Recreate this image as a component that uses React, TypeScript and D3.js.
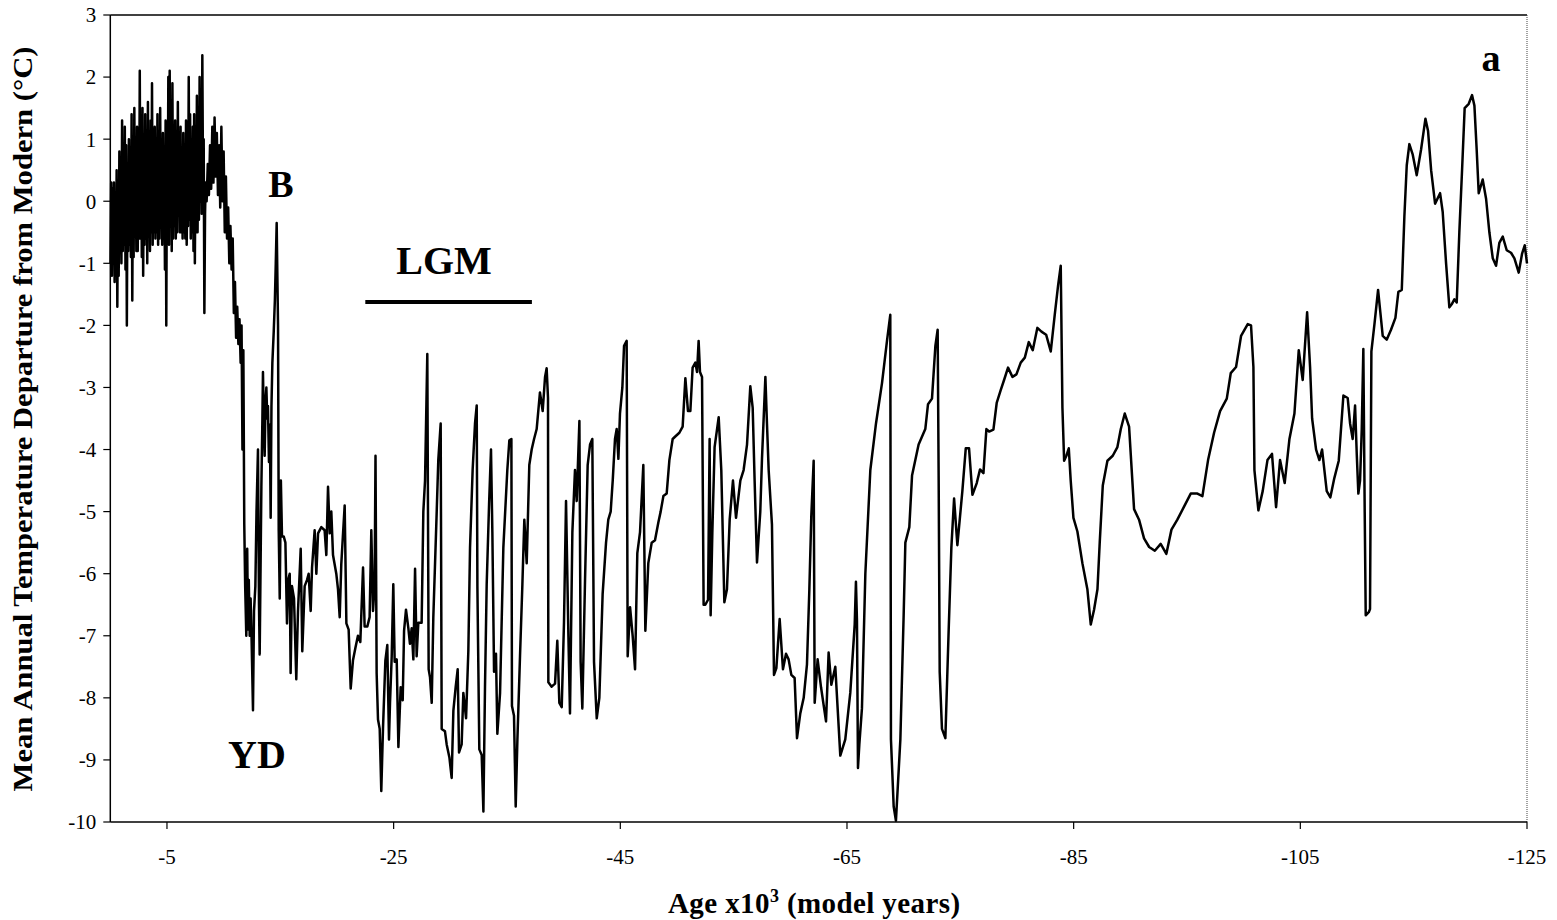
import React from 'react';
import * as d3 from 'd3';

type Pt = [number, number];

// Age (kyr, negative = before present), temperature departure (°C)
const holocene: Pt[] = [
  [-0.02,-1.0],[-0.08,0.3],[-0.14,-1.2],[-0.2,0.2],[-0.26,-0.9],[-0.32,0.3],[-0.38,-1.3],[-0.44,0.1],[-0.5,-1.1],[-0.56,0.5],
  [-0.62,-1.7],[-0.68,0.2],[-0.74,-1.2],[-0.8,0.8],[-0.86,-0.6],[-0.92,0.4],[-0.98,-1.0],[-1.04,1.3],[-1.1,-0.8],[-1.16,0.7],
  [-1.22,-0.7],[-1.28,1.2],[-1.34,-1.1],[-1.4,0.9],[-1.46,-2.0],[-1.52,0.5],[-1.58,-0.8],[-1.64,1.0],[-1.7,-0.7],[-1.76,0.4],
  [-1.82,-0.9],[-1.88,1.4],[-1.94,-1.6],[-2.0,0.6],[-2.06,-0.9],[-2.12,1.5],[-2.18,-0.5],[-2.24,0.9],[-2.3,-0.8],[-2.36,1.2],
  [-2.42,-0.8],[-2.48,0.7],[-2.54,-0.6],[-2.6,2.1],[-2.66,-0.6],[-2.72,1.0],[-2.78,-0.9],[-2.84,1.5],[-2.9,-1.2],[-2.96,0.8],
  [-3.02,-0.7],[-3.08,1.4],[-3.14,-0.6],[-3.2,1.0],[-3.26,-1.0],[-3.32,1.6],[-3.38,-0.5],[-3.44,0.7],[-3.5,-0.8],[-3.56,1.3],
  [-3.62,-0.5],[-3.68,1.9],[-3.74,-0.7],[-3.8,0.9],[-3.86,-0.5],[-3.92,1.2],[-3.98,-0.6],[-4.04,0.6],[-4.1,-0.5],[-4.16,1.4],
  [-4.22,-0.7],[-4.28,0.8],[-4.34,-0.6],[-4.4,1.5],[-4.46,-0.4],[-4.52,0.5],[-4.58,-0.7],[-4.64,1.1],[-4.7,-0.4],[-4.76,0.7],
  [-4.82,-1.1],[-4.88,1.3],[-4.94,-2.0],[-5.0,0.9],[-5.06,-0.5],[-5.12,2.0],[-5.18,-0.7],[-5.24,2.1],[-5.3,-0.3],[-5.36,1.1],
  [-5.42,-0.8],[-5.48,1.9],[-5.54,-0.6],[-5.6,0.6],[-5.66,-0.4],[-5.72,1.3],[-5.78,-0.6],[-5.84,0.4],[-5.9,-0.5],[-5.96,1.6],
  [-6.02,-0.2],[-6.08,1.0],[-6.14,-0.5],[-6.2,1.2],[-6.26,-0.5],[-6.32,0.7],[-6.38,-0.6],[-6.44,1.1],[-6.5,-0.5],[-6.56,0.8],
  [-6.62,-0.6],[-6.68,1.3],[-6.74,-0.7],[-6.8,0.5],[-6.86,-0.4],[-6.92,2.0],[-6.98,-0.3],[-7.04,1.4],[-7.1,-0.6],[-7.16,0.8],
  [-7.22,-0.5],[-7.28,1.2],[-7.34,-0.8],[-7.4,1.4],[-7.46,-1.0],[-7.52,0.6],[-7.58,-0.5],[-7.64,1.7],[-7.7,-0.5],[-7.76,0.9],
  [-7.82,-0.3],[-7.88,2.0],[-7.94,0.0],[-8.0,1.2],[-8.06,-0.2],[-8.12,2.35],[-8.18,0.3],[-8.24,1.0],[-8.3,-1.8],[-8.36,-0.2],
  [-8.42,0.3],
];

const deglacial: Pt[] = [
  [-8.5,0.0],[-8.6,0.6],[-8.7,0.1],[-8.8,0.9],[-8.9,0.2],[-9.0,1.2],[-9.1,0.3],[-9.2,1.35],[-9.3,0.4],[-9.4,1.1],
  [-9.5,0.1],[-9.6,0.9],[-9.7,-0.1],[-9.8,1.2],[-9.9,0.0],[-10.0,0.8],[-10.1,-0.5],[-10.2,0.4],[-10.3,-0.6],[-10.4,-0.1],
  [-10.5,-1.0],[-10.6,-0.4],[-10.7,-1.1],[-10.8,-0.6],[-10.9,-1.8],[-11.0,-1.3],[-11.1,-2.2],[-11.2,-1.7],[-11.3,-2.3],[-11.4,-1.9],
  [-11.5,-2.6],[-11.58,-2.0],[-11.66,-4.0],[-11.74,-2.4],[-11.82,-5.2],[-11.9,-6.2],[-12.0,-7.0],[-12.08,-5.6],[-12.15,-6.9],[-12.22,-6.1],
  [-12.3,-7.0],[-12.38,-6.4],[-12.46,-7.0],[-12.59,-8.2],[-12.68,-6.6],[-12.8,-6.2],[-12.9,-5.0],[-13.03,-4.0],[-13.12,-6.5],[-13.18,-7.3],
  [-13.28,-5.5],[-13.33,-4.6],[-13.42,-3.5],[-13.47,-2.75],[-13.55,-3.6],[-13.62,-4.1],[-13.7,-3.2],[-13.77,-3.0],[-13.85,-3.5],[-13.91,-3.3],
  [-14.0,-4.2],[-14.08,-3.6],[-14.15,-5.1],[-14.22,-3.3],[-14.3,-2.6],[-14.42,-2.1],[-14.52,-1.6],[-14.6,-1.0],[-14.68,-0.35],[-14.74,-1.2],
  [-14.8,-2.0],[-14.86,-5.3],[-14.95,-6.4],[-15.05,-4.5],[-15.15,-5.4],[-15.3,-5.4],[-15.45,-5.5],[-15.59,-6.8],[-15.7,-6.1],[-15.83,-6.0],
  [-15.91,-7.6],[-16.03,-6.2],[-16.21,-6.4],[-16.41,-7.7],[-16.56,-6.6],[-16.8,-5.6],[-16.94,-7.25],[-17.15,-6.2],[-17.36,-6.1],[-17.5,-6.0],
  [-17.68,-6.6],[-17.8,-5.9],[-18.03,-5.3],[-18.18,-6.0],[-18.33,-5.35],[-18.62,-5.25],[-18.91,-5.3],[-19.06,-5.7],[-19.21,-4.6],[-19.36,-5.35],
  [-19.5,-5.0],[-19.65,-5.7],[-19.94,-6.0],[-20.09,-6.25],[-20.24,-6.7],[-20.38,-5.85],[-20.52,-5.4],[-20.68,-4.9],[-20.83,-6.8],[-21.03,-6.9],
  [-21.21,-7.85],[-21.41,-7.4],[-21.62,-7.2],[-21.85,-7.0],[-22.06,-7.1],[-22.3,-5.9],[-22.44,-6.85],[-22.68,-6.85],[-22.88,-6.7],[-23.03,-5.3],
  [-23.18,-6.6],[-23.32,-6.2],[-23.4,-4.1],[-23.5,-7.6],[-23.62,-8.35],[-23.77,-8.5],[-23.91,-9.5],[-24.06,-8.5],[-24.27,-7.4],[-24.44,-7.15],
  [-24.59,-8.67],
];

const glacialEarly: Pt[] = [
  [-24.68,-8.08],[-24.83,-7.33],[-24.97,-6.17],[-25.09,-7.42],[-25.27,-7.38],[-25.42,-8.79],[-25.62,-7.83],[-25.8,-8.04],[-25.92,-6.92],[-26.09,-6.58],
  [-26.3,-6.88],[-26.44,-7.13],[-26.59,-6.88],[-26.74,-7.38],[-26.89,-5.92],[-27.03,-7.33],[-27.18,-6.79],[-27.47,-6.79],[-27.62,-5.0],[-27.77,-4.5],
  [-27.97,-2.46],[-28.09,-7.54],[-28.21,-7.67],[-28.36,-8.08],[-28.5,-6.71],[-28.8,-5.0],[-28.94,-4.17],[-29.15,-3.58],[-29.24,-8.5],[-29.53,-8.54],
  [-29.68,-8.75],[-29.92,-8.96],[-30.12,-9.29],[-30.27,-8.21],[-30.47,-7.83],[-30.65,-7.54],[-30.77,-8.88],[-31.0,-8.75],[-31.15,-7.92],[-31.39,-8.33],
  [-31.59,-7.25],[-31.74,-5.58],[-31.97,-4.33],[-32.18,-3.58],[-32.33,-3.29],[-32.39,-6.21],[-32.56,-8.83],[-32.77,-8.92],[-32.92,-9.83],[-33.06,-7.83],
  [-33.21,-6.17],[-33.42,-4.88],[-33.59,-4.0],[-33.71,-5.33],[-33.86,-7.58],[-34.03,-7.29],[-34.15,-8.58],[-34.39,-7.92],[-34.68,-5.58],[-35.03,-4.33],
  [-35.21,-3.85],[-35.39,-3.83],[-35.44,-8.13],[-35.62,-8.29],[-35.77,-9.75],[-35.92,-8.67],[-36.15,-7.33],[-36.36,-6.17],[-36.53,-5.13],[-36.74,-5.83],
  [-36.97,-4.25],[-37.18,-4.0],[-37.39,-3.83],[-37.62,-3.67],[-37.91,-3.08],[-38.15,-3.38],[-38.36,-2.83],[-38.5,-2.69],[-38.62,-3.17],[-38.65,-7.75],
  [-38.94,-7.82],[-39.24,-7.77],[-39.44,-7.08],[-39.62,-8.08],[-39.83,-8.15],[-40.03,-6.79],[-40.21,-4.83],[-40.42,-7.0],[-40.56,-8.25],[-40.77,-5.33],
  [-41.0,-4.33],[-41.15,-4.83],[-41.39,-3.54],[-41.5,-7.42],[-41.65,-8.17],[-41.89,-6.08],[-42.12,-4.25],[-42.33,-3.92],[-42.53,-3.83],[-42.68,-7.42],
  [-42.92,-8.33],[-43.15,-8.0],[-43.44,-6.33],[-43.74,-5.5],[-43.94,-5.13],[-44.15,-5.0],[-44.33,-4.5],[-44.53,-3.83],[-44.68,-3.67],[-44.83,-4.15],
  [-44.97,-3.42],[-45.18,-3.0],[-45.33,-2.33],[-45.56,-2.25],[-45.65,-7.33],[-45.86,-6.54],[-46.09,-7.0],[-46.3,-7.54],[-46.5,-5.67],[-46.74,-5.33],
  [-47.03,-4.25],[-47.21,-6.92],[-47.47,-5.83],[-47.77,-5.5],[-48.06,-5.46],[-48.36,-5.17],[-48.56,-5.0],[-48.8,-4.75],[-49.09,-4.71],[-49.33,-4.17],
  [-49.62,-3.83],
];

const glacialMiddle: Pt[] = [
  [-49.85,-3.79],[-50.21,-3.73],[-50.5,-3.63],[-50.74,-2.85],[-50.97,-3.38],[-51.18,-3.38],[-51.38,-2.68],[-51.62,-2.6],[-51.77,-2.75],[-51.91,-2.25],
  [-52.03,-2.75],[-52.21,-2.83],[-52.35,-6.5],[-52.5,-6.5],[-52.74,-6.42],[-52.88,-3.83],[-52.97,-6.67],[-53.12,-5.33],[-53.32,-3.96],[-53.68,-3.48],
  [-53.91,-4.33],[-54.18,-6.46],[-54.41,-6.25],[-54.65,-5.13],[-54.94,-4.5],[-55.21,-5.1],[-55.59,-4.5],[-55.88,-4.33],[-56.18,-3.92],[-56.47,-2.98],
  [-56.68,-3.33],[-56.85,-4.5],[-57.06,-5.82],[-57.35,-5.0],[-57.5,-4.15],[-57.8,-2.83],[-57.94,-3.58],[-58.09,-4.33],[-58.38,-5.21],[-58.56,-7.63],
  [-58.77,-7.52],[-59.06,-6.73],[-59.35,-7.54],[-59.62,-7.29],[-59.85,-7.38],[-60.09,-7.63],[-60.38,-7.68],[-60.59,-8.65],[-60.88,-8.25],[-61.18,-8.0],
  [-61.47,-7.46],[-61.68,-6.25],[-61.85,-5.08],[-62.06,-4.18],[-62.15,-8.08],[-62.41,-7.38],[-62.71,-7.83],[-63.15,-8.38],[-63.38,-7.27],[-63.62,-7.79],
  [-63.97,-7.5],[-64.41,-8.93],[-64.85,-8.67],[-65.29,-7.92],[-65.68,-6.82],[-65.79,-6.13],[-65.88,-6.75],[-65.97,-9.13],[-66.09,-8.75],[-66.32,-8.17],
  [-66.62,-6.0],[-67.06,-4.33],[-67.56,-3.58],[-68.09,-2.93],[-68.53,-2.25],[-68.82,-1.83],[-68.88,-8.67],[-69.12,-9.75],[-69.32,-9.98],[-69.71,-8.67],
  [-70.0,-6.67],[-70.15,-5.5],[-70.5,-5.25],[-70.74,-4.42],[-71.32,-3.92],[-71.91,-3.67],[-72.15,-3.27],[-72.5,-3.18],[-72.8,-2.33],[-73.0,-2.07],
  [-73.09,-4.5],[-73.18,-7.58],[-73.38,-8.5],[-73.68,-8.65],[-73.97,-6.92],[-74.21,-5.58],
];

const glacialLate: Pt[] = [
  [-74.45,-4.79],[-74.74,-5.54],[-75.18,-4.67],[-75.48,-3.98],[-75.77,-3.98],[-76.07,-4.73],[-76.45,-4.54],[-76.74,-4.32],[-77.04,-4.38],[-77.3,-3.67],
  [-77.54,-3.71],[-77.92,-3.68],[-78.21,-3.25],[-78.57,-3.04],[-78.86,-2.88],[-79.21,-2.68],[-79.6,-2.83],[-79.95,-2.79],[-80.33,-2.6],[-80.69,-2.52],
  [-81.04,-2.27],[-81.39,-2.4],[-81.8,-2.04],[-82.16,-2.1],[-82.57,-2.15],[-82.98,-2.42],[-83.33,-1.83],[-83.63,-1.35],[-83.86,-1.04],[-84.01,-3.33],
  [-84.16,-4.18],[-84.36,-4.1],[-84.57,-3.98],[-84.74,-4.5],[-84.98,-5.1],[-85.33,-5.32],[-85.77,-5.83],[-86.21,-6.25],[-86.51,-6.82],[-86.8,-6.58],
  [-87.1,-6.25],[-87.3,-5.5],[-87.57,-4.58],[-87.98,-4.18],[-88.45,-4.1],[-88.86,-3.96],[-89.16,-3.67],[-89.51,-3.42],[-89.89,-3.63],[-90.33,-4.96],
  [-90.77,-5.13],[-91.21,-5.43],[-91.66,-5.57],[-92.16,-5.63],[-92.68,-5.52],[-93.18,-5.68],[-93.63,-5.29],[-94.15,-5.13],[-94.74,-4.92],[-95.33,-4.71],
  [-95.92,-4.71],[-96.36,-4.75],[-96.86,-4.17],[-97.39,-3.73],[-97.92,-3.38],[-98.51,-3.18],[-98.86,-2.77],
];

const lastInterglacial: Pt[] = [
  [-99.33,-2.67],[-99.77,-2.17],[-100.36,-1.98],[-100.65,-2.0],[-100.86,-2.67],[-100.95,-4.33],[-101.3,-4.98],[-101.68,-4.67],[-102.1,-4.17],[-102.5,-4.07],
  [-102.86,-4.93],[-103.21,-4.17],[-103.62,-4.54],[-104.04,-3.83],[-104.48,-3.42],[-104.86,-2.4],[-105.21,-2.88],[-105.6,-1.79],[-105.86,-2.67],[-106.04,-3.5],
  [-106.39,-4.0],[-106.68,-4.17],[-106.92,-4.0],[-107.33,-4.67],[-107.65,-4.77],[-108.0,-4.46],[-108.39,-4.18],[-108.8,-3.13],[-109.18,-3.17],[-109.39,-3.58],
  [-109.62,-3.83],[-109.83,-3.29],[-109.98,-4.08],[-110.12,-4.71],[-110.27,-4.5],[-110.42,-3.67],[-110.56,-2.38],[-110.68,-5.0],[-110.77,-6.67],[-111.04,-6.62],
  [-111.15,-6.57],[-111.27,-2.42],[-111.54,-1.98],[-111.86,-1.43],[-112.06,-1.79],[-112.27,-2.17],[-112.62,-2.23],[-113.0,-2.07],[-113.39,-1.88],[-113.65,-1.46],
  [-113.95,-1.43],[-114.18,-0.25],[-114.39,0.58],[-114.62,0.92],[-114.92,0.75],[-115.27,0.42],[-115.65,0.83],[-116.04,1.33],[-116.27,1.13],[-116.54,0.5],
  [-116.89,-0.04],[-117.33,0.13],[-117.56,-0.17],[-117.86,-1.0],[-118.15,-1.71],[-118.39,-1.65],[-118.59,-1.58],[-118.8,-1.63],[-119.03,-0.5],[-119.27,0.5],
  [-119.5,1.5],[-119.86,1.57],[-120.15,1.71],[-120.36,1.54],[-120.56,0.83],[-120.74,0.13],[-121.09,0.35],[-121.39,0.04],[-121.68,-0.5],[-121.98,-0.92],
  [-122.27,-1.04],[-122.56,-0.67],[-122.86,-0.57],[-123.21,-0.79],[-123.59,-0.83],[-123.89,-0.92],[-124.27,-1.15],[-124.56,-0.85],[-124.8,-0.71],[-125.0,-1.0],
];

const xTicks = [-5, -25, -45, -65, -85, -105, -125];
const yTicks = [3, 2, 1, 0, -1, -2, -3, -4, -5, -6, -7, -8, -9, -10];
const xDomain: Pt = [0, -125];
const yDomain: Pt = [-10, 3];
const lgmSpan: Pt = [-22.5, -37.2];

const FONT = '"Liberation Serif", "Times New Roman", serif';

export default function App() {
  const W = 1557, H = 920;
  const left = 110.3, right = 1527, top = 15, bottom = 822;
  const x = d3.scaleLinear().domain(xDomain).range([left, right]);
  const y = d3.scaleLinear().domain(yDomain).range([bottom, top]);
  const series = [...holocene, ...deglacial, ...glacialEarly, ...glacialMiddle, ...glacialLate, ...lastInterglacial];
  const line = d3.line<Pt>().x(d => x(d[0])).y(d => y(d[1]));

  return (
    <svg width={W} height={H} style={{ position: 'fixed', left: 0, top: 0, background: '#fff' }} fontFamily={FONT}>
      <rect x={0} y={0} width={W} height={H} fill="#fff" />
      {/* frame */}
      <line x1={left} x2={right} y1={top} y2={top} stroke="#000" strokeWidth={1.5} />
      <line x1={right} x2={right} y1={top} y2={bottom} stroke="#444" strokeWidth={1} strokeDasharray="1 1" />
      <path d={line(series) || ''} fill="none" stroke="#000" strokeWidth={2.5} strokeLinejoin="round" />
      {/* axes */}
      <line x1={left} x2={left} y1={top} y2={bottom} stroke="#000" strokeWidth={1.5} />
      <line x1={left} x2={right} y1={bottom} y2={bottom} stroke="#000" strokeWidth={1.5} />
      {yTicks.map(t => (
        <g key={'y' + t}>
          <line x1={left - 7} x2={left} y1={y(t)} y2={y(t)} stroke="#000" strokeWidth={1.2} />
          <text x={left - 14} y={y(t)} dy="0.35em" textAnchor="end" fontSize={21}>{t}</text>
        </g>
      ))}
      {xTicks.map(t => (
        <g key={'x' + t}>
          <line x1={x(t)} x2={x(t)} y1={bottom} y2={bottom + 7} stroke="#000" strokeWidth={1.2} />
          <text x={x(t)} y={bottom + 42} textAnchor="middle" fontSize={21}>{t}</text>
        </g>
      ))}
      {/* axis titles */}
      <text transform="translate(32, 419) rotate(-90)" textAnchor="middle" fontSize={27} fontWeight="bold"
        textLength={745} lengthAdjust="spacingAndGlyphs">
        Mean Annual Temperature Departure from Modern (°C)
      </text>
      <text x={668} y={913} fontSize={29} fontWeight="bold" letterSpacing={0.4}>
        Age x10<tspan dy={-11} fontSize={18}>3</tspan><tspan dy={11}> (model years)</tspan>
      </text>
      {/* annotations */}
      <text x={281} y={197} textAnchor="middle" fontSize={38} fontWeight="bold">B</text>
      <text x={257} y={768} textAnchor="middle" fontSize={40} fontWeight="bold">YD</text>
      <text x={444} y={274} textAnchor="middle" fontSize={40} fontWeight="bold">LGM</text>
      <line x1={x(lgmSpan[0])} x2={x(lgmSpan[1])} y1={302} y2={302} stroke="#000" strokeWidth={4} />
      <text x={1491} y={71} textAnchor="middle" fontSize={38} fontWeight="bold">a</text>
    </svg>
  );
}
